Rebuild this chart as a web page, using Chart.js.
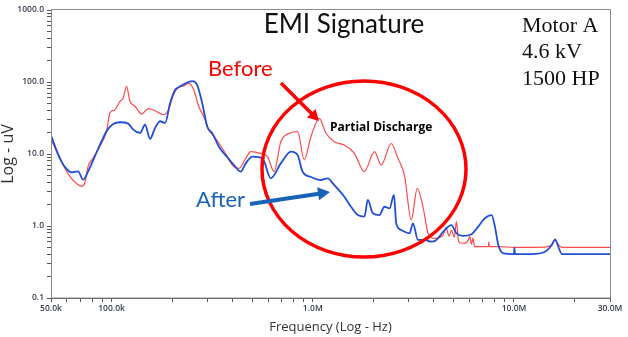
<!DOCTYPE html>
<html>
<head>
<meta charset="utf-8">
<script src="https://cdn.jsdelivr.net/npm/chart.js@4.4.1/dist/chart.umd.min.js"></script>
<style>
html,body{margin:0;padding:0;background:#fff;}
#c{display:block;}
</style>
</head>
<body>
<canvas id="c" width="628" height="337"></canvas>
<script>
// ---- Data (frequency in Hz, level in uV) ----
const beforeFreq = [50200,54200,58500,63100,68200,70800,73600,76500,81000,87500,94400,98100,103900,110100,114300,118700,123400,130800,141000,152300,164500,181000,191700,203000,213300,228500,242000,256300,271500,287500,304600,328800,348400,376100,398300,429700,464200,491400,551400,595400,642100,693600,763100,840400,906400,979300,1077000,1163000,1279000,1435000,1609000,1805000,2025000,2187000,2454000,2650000,2858000,3085000,3306000,3530000,3739000,4032000,4443000,4600000,4750000,4887000,5050000,5178000,5300000,5450000,5690000,5900000,6030000,6150000,6250000,6380000,6900000,7450000,7500000,7550000,8360000,10000000,14260000,15410000,16000000,16600000,17300000,30000000];
const beforeLevel = [15.8,9.8,6.4,4.6,3.75,3.56,3.96,6.75,8.8,12.8,20.7,37.1,41.2,53.9,60.0,87.1,53.9,46.0,35.9,42.6,39.9,35.1,41.2,66.6,82.5,88.0,95.9,77.4,45.4,33.0,21.5,16.5,13.0,9.2,7.0,6.3,8.7,10.8,10.2,9.2,5.7,14.8,19.4,20.4,8.3,17.4,31.3,19.4,14.8,13.3,10.2,5.7,10.8,7.0,14.0,8.7,5.0,1.21,3.34,1.85,0.79,0.675,0.75,0.95,0.72,0.88,0.7,1.15,0.62,0.58,0.575,0.62,0.71,0.56,0.68,0.516,0.516,0.516,0.6,0.516,0.516,0.506,0.51,0.55,0.64,0.55,0.506,0.506];

const afterFreq = [50200,53100,56300,59600,63100,68200,72200,76500,82600,89100,95500,101900,110100,121000,128200,138500,146700,155300,164500,174300,184600,195500,207000,215700,232900,251600,266400,282300,299000,316600,341600,376100,405800,438300,464200,501000,562100,618400,693600,778100,840400,889700,979300,1098000,1186000,1279000,1435000,1549000,1673000,1805000,1877000,1988000,2143000,2270000,2406000,2531000,2598000,2751000,3026000,3146000,3333000,3597000,3882000,4112000,4443000,4887000,5178000,5587000,6150000,6640000,7160000,7740000,8040000,8360000,8850000,10000000,10050000,10100000,12240000,14260000,15410000,16000000,16600000,17300000,30000000];
const afterLevel = [17.6,11.5,7.9,6.25,5.57,5.75,4.4,5.75,9.3,15.0,21.8,26.1,27.6,26.4,21.8,19.6,25.5,16.2,23.0,28.5,27.0,51.1,78.2,84.4,95.9,103,90.8,50.6,23.9,19.4,12.6,9.0,7.0,5.7,7.4,9.2,8.7,4.6,7.4,10.8,9.7,5.7,4.8,4.35,4.6,3.7,2.55,1.85,1.42,1.35,2.3,1.5,1.42,1.85,1.76,2.7,1.09,0.88,0.79,1.09,0.64,0.64,0.605,0.64,0.83,1.03,0.79,0.73,0.77,0.98,1.28,1.42,0.98,0.545,0.418,0.408,0.5,0.408,0.408,0.44,0.545,0.653,0.516,0.408,0.408];

// ---- Ticks ----
const xTickValues = [50000,60000,70000,80000,90000,100000,200000,300000,400000,500000,600000,700000,800000,900000,1000000,2000000,3000000,4000000,5000000,6000000,7000000,8000000,9000000,10000000,20000000,30000000];
const xTickLabelValues = [50000,100000,1000000,10000000,30000000];
const xTickLabels = ['50.0k','100.0k','1.0M','10.0M','30.0M'];
const yTickValues = [0.1,0.2,0.3,0.4,0.5,0.6,0.7,0.8,0.9,1,2,3,4,5,6,7,8,9,10,20,30,40,50,60,70,80,90,100,200,300,400,500,600,700,800,900,1000];
const yTickLabelValues = [0.1,1,10,100,1000];
const yTickLabels = ['0.1','1.0','10.0','100.0','1000.0'];

const titleText = 'EMI Signature';
const infoLines = ['Motor A','4.6 kV','1500 HP'];
const beforeLabel = 'Before';
const afterLabel = 'After';
const pdLabel = 'Partial Discharge';

const toPts = (fs, vs) => fs.map((f, i) => ({x: f, y: vs[i]}));
const labelFor = (vals, labels, v) => {
  const i = vals.findIndex(t => Math.abs(t - v) / t < 1e-6);
  return i >= 0 ? labels[i] : '';
};

const tickFont = {family: '"Open Sans", sans-serif', size: 8.5, weight: '600'};
const tickColor = '#333a4a';

function arrow(ctx, x1, y1, x2, y2, color, lw, head) {
  const ang = Math.atan2(y2 - y1, x2 - x1);
  ctx.save();
  ctx.strokeStyle = color; ctx.fillStyle = color; ctx.lineWidth = lw; ctx.lineCap = 'butt';
  ctx.beginPath();
  ctx.moveTo(x1, y1);
  ctx.lineTo(x2 - Math.cos(ang) * head * 0.8, y2 - Math.sin(ang) * head * 0.8);
  ctx.stroke();
  ctx.beginPath();
  ctx.moveTo(x2, y2);
  ctx.lineTo(x2 - head * Math.cos(ang) + head * 0.55 * Math.sin(ang), y2 - head * Math.sin(ang) - head * 0.55 * Math.cos(ang));
  ctx.lineTo(x2 - head * Math.cos(ang) - head * 0.55 * Math.sin(ang), y2 - head * Math.sin(ang) + head * 0.55 * Math.cos(ang));
  ctx.closePath();
  ctx.fill();
  ctx.restore();
}

const decor = {
  id: 'decor',
  afterDatasetsDraw(chart) {
    const ctx = chart.ctx;
    const a = chart.chartArea;
    ctx.save();
    // frame
    ctx.strokeStyle = '#8a8a8a';
    ctx.lineWidth = 1;
    ctx.strokeRect(Math.round(a.left) + 0.5, Math.round(a.top) - 0.5, Math.round(a.right - a.left), Math.round(a.bottom - a.top) + 0.5);
    // title
    ctx.fillStyle = '#111';
    ctx.font = '26px Lato, sans-serif';
    ctx.textAlign = 'center';
    ctx.textBaseline = 'alphabetic';
    ctx.fillText(titleText, 344, 33);
    // info
    ctx.textAlign = 'left';
    ctx.font = '22px "Liberation Serif", serif';
    ctx.fillStyle = '#111';
    infoLines.forEach((t, i) => ctx.fillText(t, 522, 31.5 + i * 26.7));
    // ellipse
    ctx.strokeStyle = '#ff0000';
    ctx.lineWidth = 3.5;
    ctx.beginPath();
    ctx.ellipse(364, 169, 102, 88, 0, 0, Math.PI * 2);
    ctx.stroke();
    // labels
    ctx.font = '22px Lato, sans-serif';
    ctx.fillStyle = '#ff0000';
    ctx.fillText(beforeLabel, 208, 76);
    ctx.fillStyle = '#1862b8';
    ctx.fillText(afterLabel, 196, 207);
    ctx.font = 'bold 12px "Open Sans", sans-serif';
    ctx.fillStyle = '#000';
    ctx.fillText(pdLabel, 330, 131);
    // arrows
    arrow(ctx, 281, 83, 319, 121, '#ff0000', 3.5, 11);
    arrow(ctx, 250, 204, 330, 192, '#1862b8', 4, 12);
    ctx.restore();
  }
};

new Chart(document.getElementById('c'), {
  type: 'line',
  data: {
    datasets: [
      {label: afterLabel, data: toPts(afterFreq, afterLevel), borderColor: '#1f4fd6', borderWidth: 1.8, pointRadius: 0, cubicInterpolationMode: 'monotone', order: 0},
      {label: beforeLabel, data: toPts(beforeFreq, beforeLevel), borderColor: '#ff4a4a', borderWidth: 1.2, pointRadius: 0, cubicInterpolationMode: 'monotone', order: 1}
    ]
  },
  options: {
    responsive: false,
    animation: false,
    devicePixelRatio: 1,
    layout: {padding: {top: 10, right: 18, left: 0, bottom: 0}},
    plugins: {legend: {display: false}, tooltip: {enabled: false}, title: {display: false}},
    scales: {
      x: {
        type: 'logarithmic', min: 50000, max: 30000000,
        afterBuildTicks: s => { s.ticks = xTickValues.map(v => ({value: v})); },
        afterFit: s => { s.height = 39; },
        ticks: {autoSkip: false, maxRotation: 0, minRotation: 0, padding: 1, font: tickFont, color: tickColor,
          callback: v => labelFor(xTickLabelValues, xTickLabels, v)},
        grid: {drawOnChartArea: false, drawTicks: true, tickLength: 4, tickColor: '#555'},
        border: {color: '#555', width: 1},
        title: {display: true, text: 'Frequency (Log - Hz)', color: '#333', font: {family: '"Open Sans", sans-serif', size: 13}, padding: {top: 0, bottom: 2}}
      },
      y: {
        type: 'logarithmic', min: 0.1, max: 1000,
        afterBuildTicks: s => { s.ticks = yTickValues.map(v => ({value: v})); },
        afterFit: s => { s.width = 51; },
        ticks: {autoSkip: false, padding: 3, font: tickFont, color: tickColor,
          callback: v => labelFor(yTickLabelValues, yTickLabels, v)},
        grid: {drawOnChartArea: false, drawTicks: true, tickLength: 4, tickColor: '#555'},
        border: {color: '#555', width: 1},
        title: {display: true, text: 'Log - uV', color: '#333', font: {family: '"Open Sans", sans-serif', size: 16, lineHeight: 1}, padding: {top: 0, bottom: 0}}
      }
    }
  },
  plugins: [decor]
});
</script>
</body>
</html>
